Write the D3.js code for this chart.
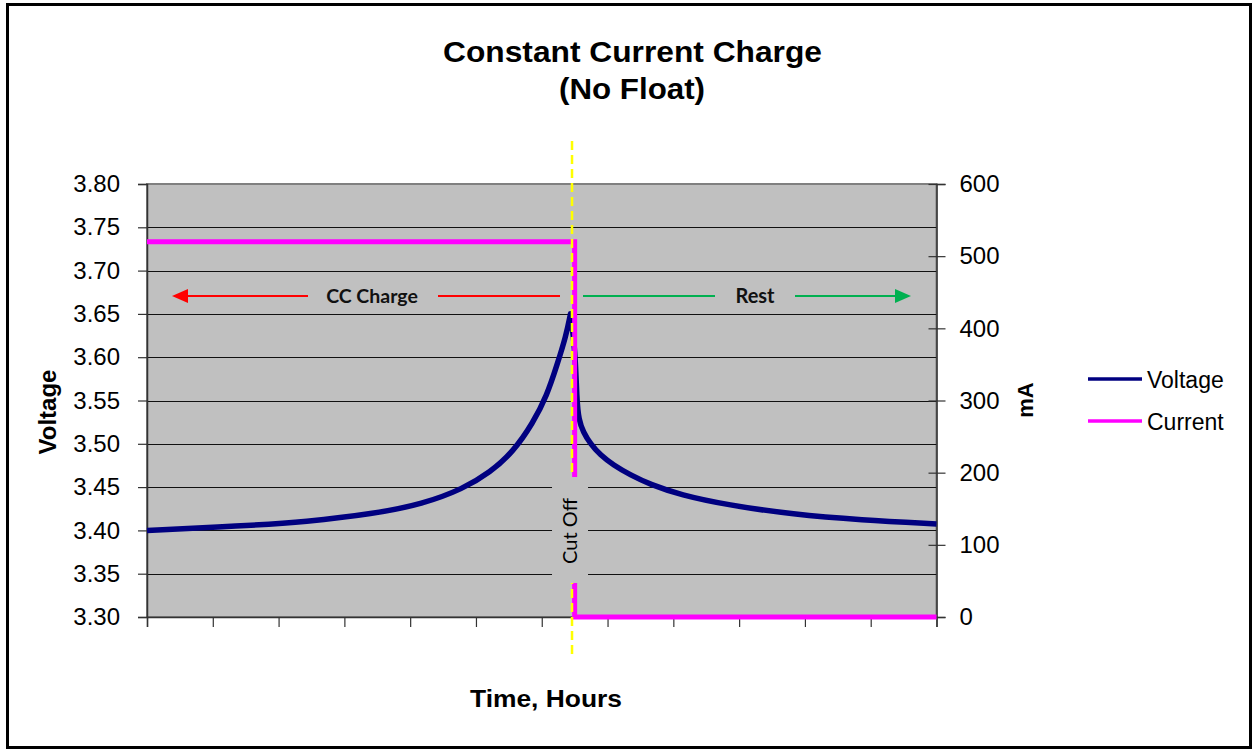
<!DOCTYPE html>
<html><head><meta charset="utf-8">
<script src="https://cdn.jsdelivr.net/npm/d3@7"></script>
<style>
body{margin:0;background:#fff;}
svg{display:block;}
</style></head>
<body>
<svg id="chart" width="1257" height="754"></svg>
<script>
// ---- data ----
const titleLines = ["Constant Current Charge", "(No Float)"];
const xTicks = [0,1,2,3,4,5,6,7,8,9,10,11,12];
const voltageTicks = [3.30,3.35,3.40,3.45,3.50,3.55,3.60,3.65,3.70,3.75,3.80];
const currentTicks = [0,100,200,300,400,500,600];
// voltage while charging (up to cut-off peak)
const chargeTime   = [0,1.414,2.432,3.435,4.195,4.803,5.214,5.563,5.867,6.080,6.232,6.369,6.437];
const chargeVolts  = [3.400,3.405,3.410,3.419,3.4305,3.448,3.467,3.4905,3.524,3.556,3.591,3.6245,3.650];
// voltage while resting (from peak)
const restTime     = [6.437,6.509,6.532,6.563,6.631,6.738,6.890,7.087,7.346,7.650,8.107,8.821,9.825,10.844,12.0];
const restVolts    = [3.650,3.608,3.551,3.5275,3.5136,3.500,3.487,3.4755,3.464,3.453,3.441,3.4293,3.4184,3.412,3.4074];
const currentTime = [0,6.5,6.5,12];
const currentValues = [520,520,0,0];
const cutOffTime = 6.46;
const seriesNames = ["Voltage","Current"];

// ---- layout ----
const svg = d3.select("#chart");
const L = 147, R = 936.5, T = 184, B = 617;
const x = d3.scaleLinear().domain([0,12]).range([L,R]);
const yV = d3.scaleLinear().domain([3.30,3.80]).range([B,T]);
const yI = d3.scaleLinear().domain([0,600]).range([B,T]);
const colV = "#000080", colI = "#ff00ff";

// outer border
svg.append("rect").attr("x",7.5).attr("y",4.5).attr("width",1243).attr("height",743)
  .attr("fill","#fff").attr("stroke","#000").attr("stroke-width",3);

// title
svg.append("text").attr("x",632.5).attr("y",62).attr("text-anchor","middle")
  .attr("font-family","Liberation Sans, Arial, sans-serif").attr("font-weight","bold")
  .attr("font-size",29).attr("textLength",379).attr("lengthAdjust","spacingAndGlyphs").text(titleLines[0]);
svg.append("text").attr("x",632).attr("y",99).attr("text-anchor","middle")
  .attr("font-family","Liberation Sans, Arial, sans-serif").attr("font-weight","bold")
  .attr("font-size",29).attr("textLength",146).attr("lengthAdjust","spacingAndGlyphs").text(titleLines[1]);

// plot area
svg.append("rect").attr("x",L).attr("y",T).attr("width",R-L).attr("height",B-T)
  .attr("fill","#c0c0c0").attr("stroke","#808080").attr("stroke-width",2);

// gridlines
svg.append("g").selectAll("line").data(voltageTicks.filter(v=>v>3.30 && v<3.80)).join("line")
  .attr("x1",L).attr("x2",R).attr("y1",d=>Math.round(yV(d))+0.5).attr("y2",d=>Math.round(yV(d))+0.5)
  .attr("stroke","#111").attr("stroke-width",1);

// axes
const fontAx = "Liberation Sans, Arial, sans-serif";
const gL = svg.append("g").attr("transform",`translate(${L},0)`)
  .call(d3.axisLeft(yV).tickValues(voltageTicks).tickFormat(d3.format(".2f")).tickSize(9).tickPadding(18));
const gR = svg.append("g").attr("transform",`translate(${R},0)`)
  .call(d3.axisRight(yI).tickValues(currentTicks).tickFormat(d3.format("d")).tickSize(9).tickPadding(14));
gR.selectAll(".tick line").attr("x1",-8);
const gB = svg.append("g").attr("transform",`translate(0,${B})`)
  .call(d3.axisBottom(x).tickValues(xTicks).tickFormat("").tickSize(10));
[gL,gR,gB].forEach(g=>{
  g.select(".domain").attr("stroke","#333").attr("stroke-width",1.5);
  g.selectAll(".tick line").attr("stroke","#333").attr("stroke-width",1.2);
  g.selectAll("text").attr("font-family",fontAx).attr("font-size",24).attr("fill","#000");
});

// voltage line: two smooth pieces joined at the cut-off peak
const lineV = d3.line().x(d=>x(d[0])).y(d=>yV(d[1])).curve(d3.curveBasis);
const p1 = lineV(chargeTime.map((t,i)=>[t,chargeVolts[i]]));
const p2 = lineV(restTime.map((t,i)=>[t,restVolts[i]])).replace(/^M/,"L");
svg.append("path").attr("d",p1+p2).attr("fill","none").attr("stroke",colV)
  .attr("stroke-width",5.5).attr("stroke-linejoin","round");

// current line
const lineI = d3.line().x(d=>x(d[0])).y(d=>yI(d[1]));
svg.append("path").datum(currentTime.map((t,i)=>[t,currentValues[i]]))
  .attr("d",lineI).attr("fill","none").attr("stroke",colI).attr("stroke-width",5).attr("stroke-linejoin","miter");

// cut-off dashed line
const xc = x(cutOffTime);
svg.append("line").attr("x1",xc).attr("x2",xc).attr("y1",141).attr("y2",659)
  .attr("stroke","#ffff00").attr("stroke-width",2.5).attr("stroke-dasharray","9,5");

// cut-off label box
svg.append("rect").attr("x",xc-20).attr("y",477).attr("width",36).attr("height",106).attr("fill","#c0c0c0");
svg.append("text").attr("transform",`translate(${xc+5},531) rotate(-90)`).attr("text-anchor","middle")
  .attr("font-family","Lato, Open Sans, sans-serif").attr("font-size",20).attr("fill","#000").text("Cut Off");

// annotation arrows
const ay = 296;
const annFont = "Lato, Open Sans, sans-serif";
svg.append("line").attr("x1",184).attr("x2",308).attr("y1",ay).attr("y2",ay).attr("stroke","#ff0000").attr("stroke-width",2);
svg.append("line").attr("x1",438).attr("x2",560).attr("y1",ay).attr("y2",ay).attr("stroke","#ff0000").attr("stroke-width",2);
svg.append("path").attr("d",`M172,${ay} L188,${ay-7} L188,${ay+7} Z`).attr("fill","#ff0000");
svg.append("text").attr("x",372).attr("y",ay+7).attr("text-anchor","middle")
  .attr("font-family",annFont).attr("font-weight","bold").attr("font-size",19.5).attr("fill","#111").text("CC Charge");

svg.append("line").attr("x1",583).attr("x2",715).attr("y1",ay).attr("y2",ay).attr("stroke","#00b050").attr("stroke-width",2);
svg.append("line").attr("x1",795).attr("x2",897).attr("y1",ay).attr("y2",ay).attr("stroke","#00b050").attr("stroke-width",2);
svg.append("path").attr("d",`M911,${ay} L895,${ay-7} L895,${ay+7} Z`).attr("fill","#00b050");
svg.append("text").attr("x",755).attr("y",ay+7).attr("text-anchor","middle")
  .attr("font-family",annFont).attr("font-weight","bold").attr("font-size",20).attr("fill","#111").text("Rest");

// axis titles
svg.append("text").attr("transform","translate(56,412) rotate(-90)").attr("text-anchor","middle")
  .attr("font-family",fontAx).attr("font-weight","bold").attr("font-size",24).text("Voltage");
svg.append("text").attr("transform","translate(1033,400) rotate(-90)").attr("text-anchor","middle")
  .attr("font-family",fontAx).attr("font-weight","bold").attr("font-size",22).text("mA");
svg.append("text").attr("x",546).attr("y",707).attr("text-anchor","middle")
  .attr("font-family",fontAx).attr("font-weight","bold").attr("font-size",24)
  .attr("textLength",152).attr("lengthAdjust","spacingAndGlyphs").text("Time, Hours");

// legend
const leg = svg.append("g");
[colV,colI].forEach((c,i)=>{
  const yy = 379 + i*42;
  leg.append("line").attr("x1",1088).attr("x2",1142).attr("y1",yy).attr("y2",yy).attr("stroke",c).attr("stroke-width",3.5);
  leg.append("text").attr("x",1147).attr("y",yy+9).attr("font-family",fontAx).attr("font-size",23).text(seriesNames[i]);
});
</script>
</body></html>
